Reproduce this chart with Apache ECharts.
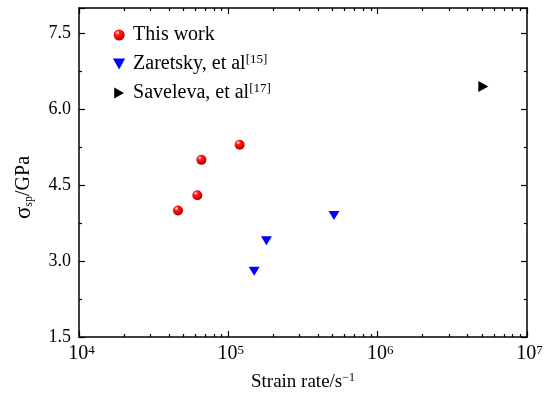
<!DOCTYPE html>
<html>
<head>
<meta charset="utf-8">
<script src="https://cdn.jsdelivr.net/npm/echarts@6/dist/echarts.min.js"></script>
<style>
  html, body { margin: 0; padding: 0; background: #fff; }
  #chart { width: 554px; height: 393px; }
</style>
</head>
<body>
<div id="chart"></div>
<script>
// data
const thisWorkX = [4.6e4, 6.2e4, 6.6e4, 1.19e5];
const thisWorkY = [4.0, 4.3, 5.0, 5.3];
const zaretskyX = [1.49e5, 1.8e5, 5.1e5];
const zaretskyY = [2.8, 3.4, 3.9];
const savelevaX = [5.1e6];
const savelevaY = [6.45];

const seriesNames = ["This work", "Zaretsky, et al[15]", "Saveleva, et al[17]"];
const minorX = [];
[1e4, 1e5, 1e6].forEach((d) => {
  for (let k = 2; k <= 9; k++) minorX.push(k * d);
});

const FONT = "Liberation Serif";
const DOWN = "path://M0,0L10,0L5,9Z";
const RIGHT = "path://M0,0L9,5L0,10Z";
const pair = (xs, ys) => xs.map((x, i) => [x, ys[i]]);
const supStyle = (size) => ({ fontFamily: FONT, fontSize: size, lineHeight: size, verticalAlign: "top", color: "#000" });

const chart = echarts.init(document.getElementById("chart"));

const axisLine = { show: true, lineStyle: { color: "#000", width: 1.5 } };
const tickLine = { color: "#000", width: 1.2 };
const xBase = { type: "log", logBase: 10, min: 1e4, max: 1e7, splitLine: { show: false } };
const yBase = { type: "value", min: 1.5, max: 8, interval: 1.5, splitLine: { show: false } };

const options = {
  animation: false,
  grid: { left: 79, right: 27, top: 8, bottom: 56, outerBoundsMode: "none" },
  legend: {
    orient: "vertical",
    left: 108,
    top: 19,
    itemWidth: 18,
    itemHeight: 11,
    itemGap: 7,
    data: [
      { name: seriesNames[0], icon: "circle" },
      { name: seriesNames[1], icon: DOWN },
      { name: seriesNames[2], icon: RIGHT },
    ],
    formatter: (name) => name.replace(/\[(\d+)\]/, "{sup|[$1]}"),
    textStyle: {
      fontFamily: FONT,
      fontSize: 20,
      color: "#000",
      lineHeight: 22,
      rich: { sup: supStyle(13) },
    },
  },
  xAxis: [
    {
      ...xBase,
      position: "bottom",
      axisLine,
      axisTick: { inside: true, length: 6, lineStyle: tickLine },
      axisLabel: {
        margin: 7,
        color: "#000",
        fontFamily: FONT,
        fontSize: 20,
        padding: [0, 0, 0, 5],
        showMinLabel: true,
        showMaxLabel: true,
        formatter: (v) => "10{sup|" + Math.round(Math.log10(v)) + "}",
        rich: { sup: supStyle(13) },
      },
      name: "Strain rate/s{sup|\u22121}",
      nameLocation: "middle",
      nameGap: 35,
      nameTextStyle: {
        fontFamily: FONT,
        fontSize: 19,
        color: "#000",
        lineHeight: 21,
        rich: { sup: supStyle(12) },
      },
    },
    {
      ...xBase,
      position: "bottom",
      axisLine: { show: false },
      axisTick: { inside: true, length: 3, customValues: minorX, lineStyle: tickLine },
      axisLabel: { show: false },
    },
    {
      ...xBase,
      position: "top",
      axisLine,
      axisTick: { inside: true, length: 6, lineStyle: tickLine },
      axisLabel: { show: false },
    },
    {
      ...xBase,
      position: "top",
      axisLine: { show: false },
      axisTick: { inside: true, length: 3, customValues: minorX, lineStyle: tickLine },
      axisLabel: { show: false },
    },
  ],
  yAxis: [
    {
      ...yBase,
      position: "left",
      axisLine,
      axisTick: { inside: true, length: 6, lineStyle: tickLine },
      minorTick: { show: true, splitNumber: 2, length: 3, lineStyle: tickLine },
      axisLabel: {
        margin: 8,
        color: "#000",
        fontFamily: FONT,
        fontSize: 18,
        formatter: (v) => (v > 7.6 ? "" : v.toFixed(1)),
      },
      name: "{s|\u03c3}{sub|sp}/GPa",
      nameLocation: "middle",
      nameGap: 44,
      nameTextStyle: {
        fontFamily: FONT,
        fontSize: 20,
        color: "#000",
        lineHeight: 22,
        padding: [0, 30, 0, 0],
        rich: {
          s: { fontFamily: FONT, fontSize: 23, lineHeight: 22, color: "#000" },
          sub: { fontFamily: FONT, fontSize: 12, lineHeight: 12, verticalAlign: "bottom", color: "#000" },
        },
      },
    },
    {
      ...yBase,
      position: "right",
      axisLine,
      axisTick: { inside: true, length: 6, lineStyle: tickLine },
      minorTick: { show: true, splitNumber: 2, length: 3, lineStyle: tickLine },
      axisLabel: { show: false },
    },
  ],
  series: [
    {
      name: seriesNames[0],
      type: "scatter",
      symbol: "circle",
      symbolSize: 10,
      data: pair(thisWorkX, thisWorkY),
      itemStyle: {
        opacity: 1,
        color: {
          type: "radial",
          x: 0.35,
          y: 0.3,
          r: 0.7,
          colorStops: [
            { offset: 0, color: "#fff0f0" },
            { offset: 0.3, color: "#ff1a1a" },
            { offset: 0.75, color: "#e80000" },
            { offset: 1, color: "#a00000" },
          ],
        },
      },
    },
    {
      name: seriesNames[1],
      type: "scatter",
      symbol: DOWN,
      symbolSize: [11, 9],
      data: pair(zaretskyX, zaretskyY),
      itemStyle: { color: "#0000ff", opacity: 1 },
    },
    {
      name: seriesNames[2],
      type: "scatter",
      symbol: RIGHT,
      symbolSize: [10, 11],
      data: pair(savelevaX, savelevaY),
      itemStyle: { color: "#000", opacity: 1 },
    },
  ],
};

chart.setOption(options);
</script>
</body>
</html>
